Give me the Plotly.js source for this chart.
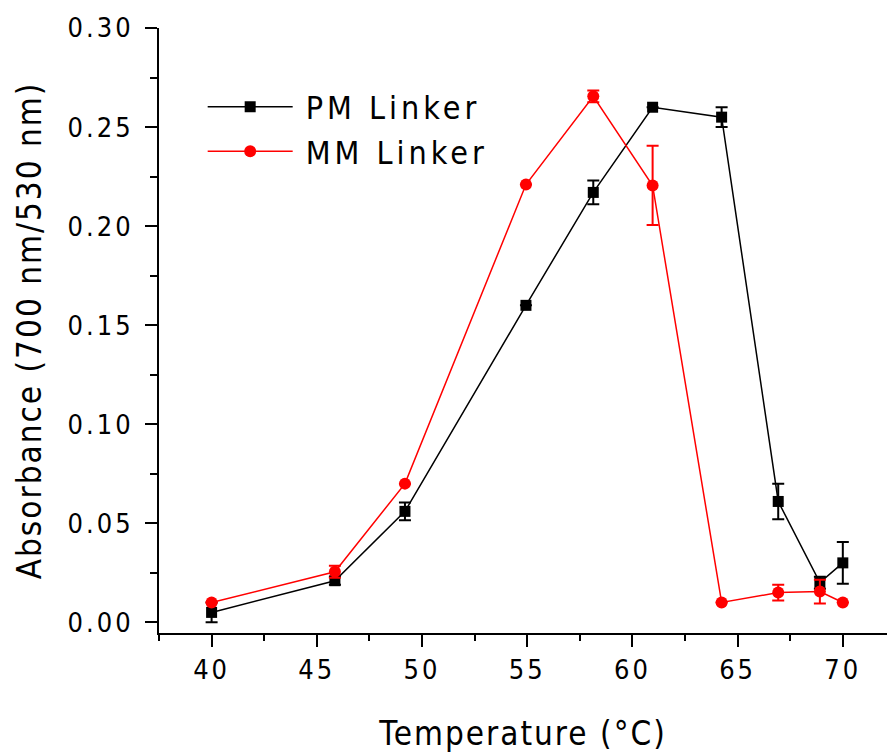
<!DOCTYPE html>
<html>
<head>
<meta charset="utf-8">
<script src="https://cdn.plot.ly/plotly-3.0.1.min.js"></script>
<style>
  html, body { margin: 0; padding: 0; background: #ffffff; }
  #chart { width: 887px; height: 753px; }
  .xtick text, .ytick text { letter-spacing: 3px; }
  .legendtext { letter-spacing: 4px; transform: translateX(8px); }
  .g-xtitle text, .g-ytitle text { letter-spacing: 2px; }
</style>
</head>
<body>
<div id="chart"></div>
<script>
// Temperature (°C)
const temperature = [40, 45.86, 49.19, 54.94, 58.14, 60.96, 64.24, 66.93, 68.91, 70.0];

// PM Linker (black squares)
const pmValues = [0.005, 0.021, 0.056, 0.160, 0.217, 0.260, 0.255, 0.061, 0.020, 0.030];
const pmErrors = [0.005, 0.002, 0.0045, 0.0, 0.006, 0.0, 0.005, 0.009, 0.003, 0.0105];

// MM Linker (red circles)
const mmValues = [0.010, 0.0255, 0.070, 0.221, 0.2655, 0.2205, 0.010, 0.015, 0.0155, 0.010];
const mmErrors = [0.0, 0.003, 0.0, 0.0, 0.003, 0.020, 0.0, 0.004, 0.006, 0.0];

const xTicks = [40, 45, 50, 55, 60, 65, 70];
const yTicks = [0.00, 0.05, 0.10, 0.15, 0.20, 0.25, 0.30];

const FONT = '"Liberation Sans Narrow", "DejaVu Sans Condensed", "Liberation Sans", Arial, sans-serif';

const traces = [
  {
    x: temperature, y: pmValues, name: 'PM Linker', type: 'scatter', mode: 'lines+markers',
    line: {color: '#000000', width: 1.5},
    marker: {symbol: 'square', size: 11, color: '#000000'},
    error_y: {type: 'data', array: pmErrors, visible: true, color: '#000000', thickness: 2, width: 6}
  },
  {
    x: temperature, y: mmValues, name: 'MM Linker', type: 'scatter', mode: 'lines+markers',
    line: {color: '#ff0000', width: 1.5},
    marker: {symbol: 'circle', size: 12, color: '#ff0000'},
    error_y: {type: 'data', array: mmErrors, visible: true, color: '#ff0000', thickness: 2, width: 6}
  }
];

const layout = {
  width: 887, height: 753,
  margin: {l: 159, r: 0, t: 28, b: 120, pad: 0},
  paper_bgcolor: '#ffffff', plot_bgcolor: '#ffffff',
  font: {family: FONT, color: '#000000'},
  showlegend: true,
  legend: {
    x: 0.06, y: 0.915, xanchor: 'left', yanchor: 'top',
    bgcolor: 'rgba(0,0,0,0)', borderwidth: 0,
    font: {size: 32, family: FONT, color: '#000000'},
    itemwidth: 85, tracegroupgap: 0
  },
  xaxis: {
    range: [37.5, 72.1],
    tickvals: xTicks, ticktext: xTicks.map(String),
    ticks: 'outside', ticklen: 12, tickwidth: 2, tickcolor: '#000000',
    minor: {dtick: 2.5, tick0: 37.5, ticks: 'outside', ticklen: 6, tickwidth: 2, tickcolor: '#000000'},
    showline: true, linewidth: 2, linecolor: '#000000',
    showgrid: false, zeroline: false,
    tickfont: {size: 27, family: FONT, color: '#000000'},
    title: {text: 'Temperature (°C)', font: {size: 33, family: FONT, color: '#000000'}, standoff: 38}
  },
  yaxis: {
    range: [-0.0054, 0.30],
    tickvals: yTicks, ticktext: yTicks.map(v => v.toFixed(2)),
    ticks: 'outside', ticklen: 12, tickwidth: 2, tickcolor: '#000000',
    minor: {dtick: 0.025, tick0: 0, ticks: 'outside', ticklen: 7, tickwidth: 2, tickcolor: '#000000'},
    showline: true, linewidth: 2, linecolor: '#000000',
    showgrid: false, zeroline: false,
    tickfont: {size: 27, family: FONT, color: '#000000'},
    ticklabelstandoff: 6,
    title: {text: 'Absorbance (700 nm/530 nm)', font: {size: 33, family: FONT, color: '#000000'}, standoff: 16}
  }
};

Plotly.newPlot('chart', traces, layout, {displayModeBar: false, staticPlot: true});
</script>
</body>
</html>
